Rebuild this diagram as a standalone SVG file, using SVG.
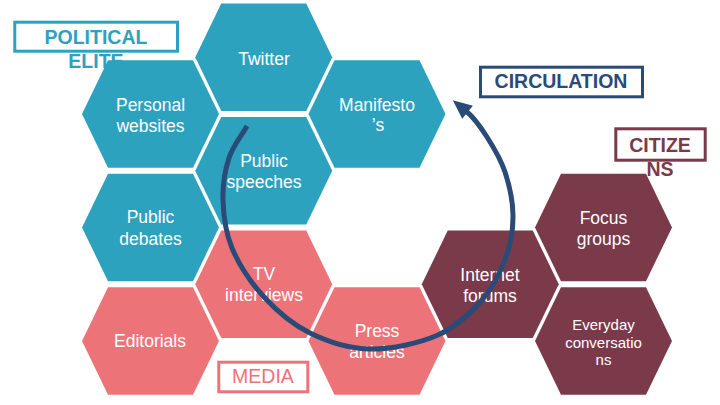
<svg xmlns="http://www.w3.org/2000/svg" xmlns:xlink="http://www.w3.org/1999/xlink" width="720" height="405" viewBox="0 0 720 405">
<style>
.hx-t{fill:#2DA2BF}
.hx-p{fill:#EC7479}
.hx-m{fill:#7A3A4A}
.ht{font-family:"Liberation Sans",Arial,sans-serif;font-size:17.5px;fill:#FFFFFF;text-anchor:middle}
.hs{font-family:"Liberation Sans",Arial,sans-serif;font-size:15px;fill:#FFFFFF;text-anchor:middle}
.lb{fill:#FFFFFF;stroke-width:3}
.lt{font-family:"Liberation Sans",Arial,sans-serif;font-size:19.5px;font-weight:bold;text-anchor:middle}
.arc{fill:none;stroke:#2A4A78;stroke-width:5}
</style>
<defs>
<polygon id="hex" points="-68.5,0 -42.5,-53.7 42.5,-53.7 68.5,0 42.5,53.7 -42.5,53.7"/>
<marker id="ah" viewBox="0 -10 20 20" markerWidth="20" markerHeight="20" refX="2" refY="0" orient="auto" markerUnits="userSpaceOnUse" overflow="visible">
<path d="M0,-8.5 L19,0 L0,8.5 Z" fill="#2A4A78"/>
</marker>
</defs>
<rect width="720" height="405" fill="#FFFFFF"/>

<g id="label-political-elite">
<rect class="lb" x="14.8" y="22.2" width="162.7" height="29" stroke="#2DA2BF"/>
<text class="lt" fill="#2DA2BF"><tspan x="96" y="43.5">POLITICAL</tspan><tspan x="96" y="68">ELITE</tspan></text>
</g>
<g id="label-circulation">
<rect class="lb" x="480.5" y="67.2" width="162" height="29.6" stroke="#2A4A78"/>
<text class="lt" fill="#2A4A78" x="561" y="88">CIRCULATION</text>
</g>
<g id="label-citizens">
<rect class="lb" x="615.8" y="128.8" width="89.4" height="31.4" stroke="#7A3A4A"/>
<text class="lt" fill="#7A3A4A"><tspan x="660" y="152">CITIZE</tspan><tspan x="660" y="176">NS</tspan></text>
</g>
<g id="label-media">
<rect class="lb" x="218.8" y="362.2" width="89" height="29.6" stroke="#EC7479"/>
<text class="lt" style="font-weight:normal" fill="#EC7479" x="263" y="383">MEDIA</text>
</g>

<g id="node-twitter">
<use xlink:href="#hex" href="#hex" class="hx-t" transform="translate(263.75,57.3)"/>
<text class="ht" x="264" y="65">Twitter</text>
</g>
<g id="node-personal-websites">
<use xlink:href="#hex" href="#hex" class="hx-t" transform="translate(150.5,114)"/>
<text class="ht"><tspan x="150.5" y="111">Personal</tspan><tspan x="150.5" y="132">websites</tspan></text>
</g>
<g id="node-manifestos">
<use xlink:href="#hex" href="#hex" class="hx-t" transform="translate(377,114)"/>
<text class="ht"><tspan x="377" y="111">Manifesto</tspan><tspan x="378" y="131">’s</tspan></text>
</g>
<g id="node-public-speeches">
<use xlink:href="#hex" href="#hex" class="hx-t" transform="translate(263.75,170.75)"/>
<text class="ht"><tspan x="264" y="167">Public</tspan><tspan x="264" y="188">speeches</tspan></text>
</g>
<g id="node-public-debates">
<use xlink:href="#hex" href="#hex" class="hx-t" transform="translate(150.5,227.5)"/>
<text class="ht"><tspan x="150.5" y="223">Public</tspan><tspan x="150.5" y="245">debates</tspan></text>
</g>
<g id="node-tv-interviews">
<use xlink:href="#hex" href="#hex" class="hx-p" transform="translate(263.75,284.25)"/>
<text class="ht"><tspan x="264" y="280">TV</tspan><tspan x="264" y="301">interviews</tspan></text>
</g>
<g id="node-editorials">
<use xlink:href="#hex" href="#hex" class="hx-p" transform="translate(150.5,341)"/>
<text class="ht" x="150" y="347">Editorials</text>
</g>
<g id="node-press-articles">
<use xlink:href="#hex" href="#hex" class="hx-p" transform="translate(377,341)"/>
<text class="ht"><tspan x="377" y="337">Press</tspan><tspan x="377" y="358">articles</tspan></text>
</g>
<g id="node-internet-forums">
<use xlink:href="#hex" href="#hex" class="hx-m" transform="translate(490.25,284.25)"/>
<text class="ht"><tspan x="490" y="281">Internet</tspan><tspan x="490" y="302">forums</tspan></text>
</g>
<g id="node-focus-groups">
<use xlink:href="#hex" href="#hex" class="hx-m" transform="translate(603.5,227.5)"/>
<text class="ht"><tspan x="603.5" y="224">Focus</tspan><tspan x="603.5" y="245">groups</tspan></text>
</g>
<g id="node-everyday-conversations">
<use xlink:href="#hex" href="#hex" class="hx-m" transform="translate(603.5,341)"/>
<text class="hs"><tspan x="603.5" y="330">Everyday</tspan><tspan x="603.5" y="348">conversatio</tspan><tspan x="603.5" y="365">ns</tspan></text>
</g>

<g id="connectors">
<path class="arc" marker-end="url(#ah)" d="M247,126 C241,136.7 233,145.7 229,158 C225,170.3 222.5,185 223,200 C223.5,215 225.2,231.8 232,248 C238.8,264.2 251,282.8 264,297 C277,311.2 292.3,324.3 310,333 C327.7,341.7 348.7,348.7 370,349 C391.3,349.3 419.3,343.2 438,335 C456.7,326.8 470.7,313 482,300 C493.3,287 500.8,271.2 506,257 C511.2,242.8 513.2,229.2 513,215 C512.8,200.8 509.3,185 505,172 C500.7,159 493.5,147.2 487,137 C480.5,126.8 472.2,116 466,111"/>
</g>
</svg>
